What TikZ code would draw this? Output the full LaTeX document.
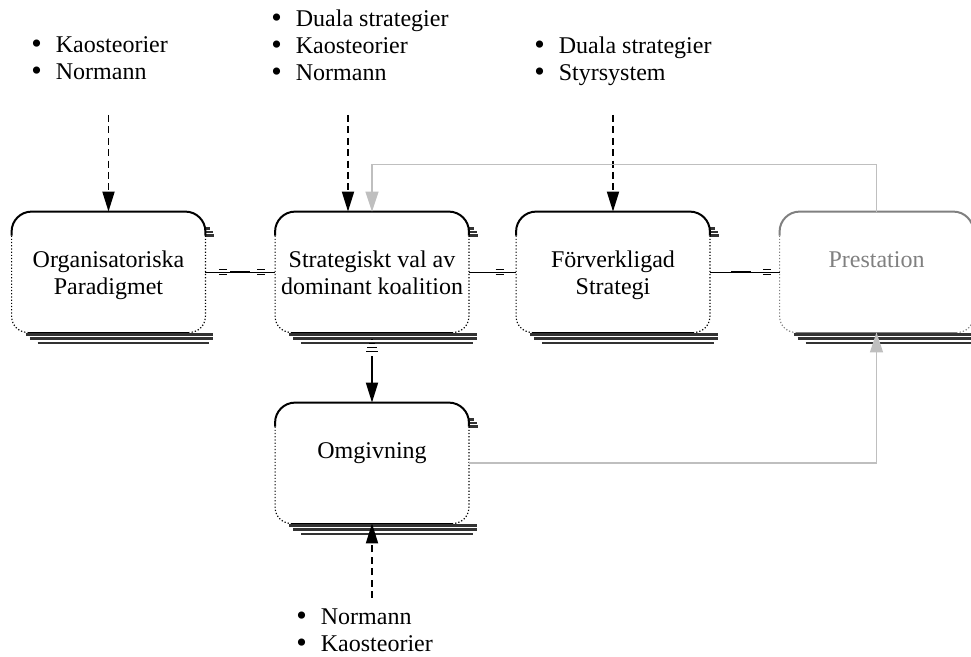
\documentclass[tikz,border=0pt]{standalone}
\usepackage{fontspec}
\setmainfont{Liberation Serif}
\usetikzlibrary{arrows.meta,decorations.markings}
\definecolor{fbgray}{RGB}{191,191,191}
\definecolor{txtgray}{RGB}{128,128,128}
\newcommand\boxlabel[1]{\parbox[c][60pt][t]{96pt}{\centering\vskip14.5pt\hbox{}#1}}
\newcommand\bul{\smash{\raisebox{-0.5pt}{\fontsize{15}{0}\selectfont\textbullet}}}
\newcommand\bulletlist[1]{\begin{tabular}[t]{@{}l@{\hspace{7pt}}l@{}}#1\end{tabular}}

\begin{document}
\begin{tikzpicture}[x=0.5pt,y=-0.5pt,font=\fontsize{12}{13.5}\selectfont,
  box/.style={inner sep=0pt,minimum width=96.5pt,minimum height=60pt},
  list/.style={anchor=base west,inner sep=0pt},
  input/.style={line width=0.9pt,dash pattern=on 3.5pt off 2.2pt,-{Triangle[length=10pt,width=6pt]}},
  flow/.style={line width=0.9pt,-{Triangle[length=10pt,width=6pt]}},
  feedback/.style={fbgray,line width=0.7pt,-{Triangle[length=10pt,width=6.5pt]}},
  link/.style={line width=0.4pt},
  eq/.style={postaction={decorate,decoration={markings,mark=at position #1 with {\draw[line width=0.5pt] (-2pt,1.2pt) -- (2pt,1.2pt) (-2pt,-1.2pt) -- (2pt,-1.2pt);}}}},
  bar/.style={postaction={decorate,decoration={markings,mark=at position #1 with {\draw[line width=1pt] (-5pt,0) -- (5pt,0);}}}},
  shadowline/.style={black!80,line width=1.6pt}]
\useasboundingbox (0,0) rectangle (971,657);

% boxes
\node[box] (org) at (108.5,272) {\boxlabel{Organisatoriska\\Paradigmet}};
\node[box] (strat) at (372,272) {\boxlabel{Strategiskt val av\\dominant koalition}};
\node[box] (forv) at (613,272) {\boxlabel{Förverkligad\\Strategi}};
\node[box,text=txtgray] (prest) at (876.5,272) {\boxlabel{Prestation}};
\node[box] (omg) at (372,463) {\boxlabel{Omgivning}};

\foreach \n/\col in {org/black,strat/black,forv/black,prest/txtgray,omg/black}{
  \draw[shadowline] ([shift={(14,2.5)}]\n.south west) -- ([shift={(8,2.5)}]\n.south east);
  \draw[shadowline] ([shift={(18,6.5)}]\n.south west) -- ([shift={(8,6.5)}]\n.south east);
  \draw[shadowline,line width=1.3pt] ([shift={(26,10.5)}]\n.south west) -- ([shift={(4,10.5)}]\n.south east);
  \draw[shadowline,line width=1.2pt] ([shift={(0,17)}]\n.north east) -- ++(5,0)
    ([shift={(0,20.5)}]\n.north east) -- ++(8,0) ([shift={(0,24)}]\n.north east) -- ++(9,0);
  \draw[\col,line width=1pt,rounded corners=10pt] ([shift={(0,24)}]\n.north west) -- (\n.north west) -- (\n.north east) -- ([shift={(0,24)}]\n.north east);
  \draw[\col,line width=0.6pt,dash pattern=on 0.6pt off 1pt,rounded corners=8pt] ([shift={(0,24)}]\n.north west) -- (\n.south west) -- ([shift={(16,0)}]\n.south west);
  \draw[\col,line width=0.6pt,dash pattern=on 0.6pt off 1pt,rounded corners=8pt] ([shift={(0,24)}]\n.north east) -- (\n.south east) -- ([shift={(-16,0)}]\n.south east);
  \draw[\col,line width=0.5pt] ([shift={(16,0)}]\n.south west) -- ([shift={(-16,0)}]\n.south east);
}

% bullet lists
\node[list] (lorg) at (31,53) {\bulletlist{\bul & Kaosteorier\\ \bul & Normann}};
\node[list] (lstrat) at (271,27) {\bulletlist{\bul & Duala strategier\\ \bul & Kaosteorier\\ \bul & Normann}};
\node[list] (lforv) at (534,54) {\bulletlist{\bul & Duala strategier\\ \bul & Styrsystem}};
\node[list] (lomg) at (296,625) {\bulletlist{\bul & Normann\\ \bul & Kaosteorier}};

% inputs
\coordinate (inorg) at (108.5,115);
\coordinate (instrat) at (348,115);
\coordinate (inforv) at (613,115);
\coordinate (inomg) at (372,598);
\draw[input] (inorg) -- (org.north);
\draw[input] (instrat) -- (instrat |- strat.north);
\draw[input] (inforv) -- (forv.north);
\draw[input] (inomg) -- (omg.south);

% links
\draw[link,eq=0.25,bar=0.5,eq=0.8] (org.east) -- (strat.west);
\draw[link,eq=0.65] (strat.east) -- (forv.west);
\draw[link,bar=0.45,eq=0.82] (forv.east) -- (prest.west);
\foreach \d/\w in {7/1,11/3,15/5,19/6}{\draw[line width=0.5pt] ([shift={(-\w,\d)}]strat.south) -- ++(2*\w,0);}
\draw[flow,shorten <=12pt] (strat.south) -- (omg.north);

% feedback
\draw[feedback] (prest.north) -- ++(0,-47) -| (strat.north);
\draw[feedback] (omg.east) -| (prest.south);
\end{tikzpicture}
\end{document}
